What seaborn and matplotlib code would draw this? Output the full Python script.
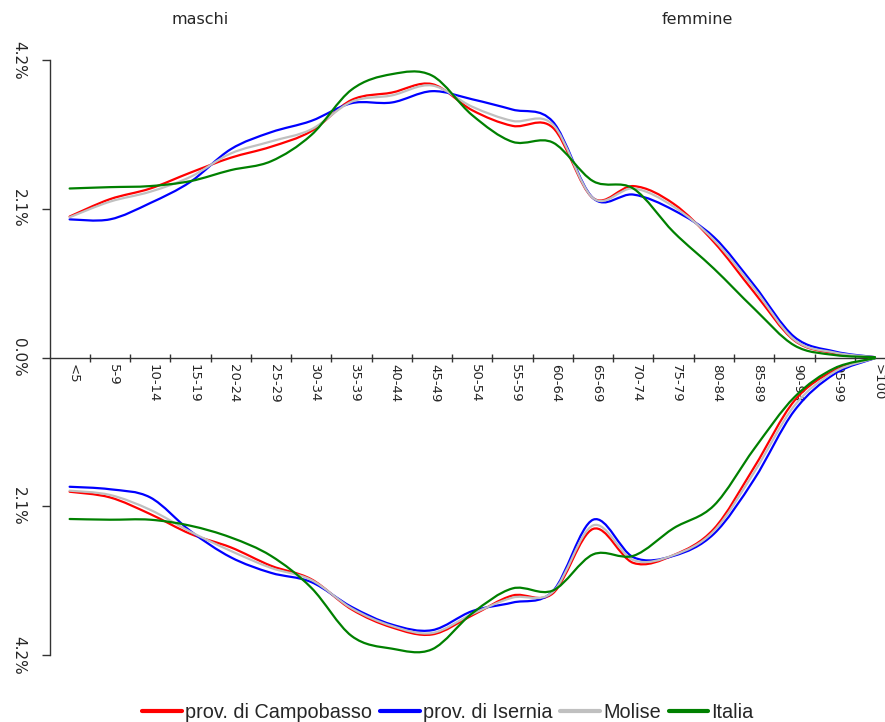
import matplotlib
matplotlib.use("Agg")

import numpy as np
import matplotlib.pyplot as plt
import seaborn as sns
from matplotlib.path import Path
from matplotlib.patches import PathPatch
from matplotlib.lines import Line2D

# classi di età (una per categoria)
eta = ["<5", "5-9", "10-14", "15-19", "20-24", "25-29", "30-34", "35-39", "40-44",
       "45-49", "50-54", "55-59", "60-64", "65-69", "70-74", "75-79", "80-84",
       "85-89", "90-94", "95-99", ">100"]

# maschi (% sul totale)
campobasso_m = [1.99, 2.235, 2.385, 2.61, 2.82, 2.975, 3.195, 3.635, 3.74, 3.86, 3.49,
                3.27, 3.245, 2.25, 2.42, 2.17, 1.63, 0.92, 0.24, 0.06, 0.005]
isernia_m = [1.95, 1.95, 2.18, 2.48, 2.94, 3.18, 3.34, 3.59, 3.60, 3.76, 3.645,
             3.50, 3.33, 2.25, 2.30, 2.08, 1.70, 1.02, 0.29, 0.085, 0.005]
molise_m = [1.98, 2.20, 2.34, 2.55, 2.88, 3.05, 3.22, 3.61, 3.70, 3.84, 3.54,
            3.34, 3.29, 2.25, 2.386, 2.13, 1.66, 0.975, 0.25, 0.07, 0.005]
italia_m = [2.386, 2.405, 2.42, 2.49, 2.645, 2.77, 3.14, 3.78, 4.00, 3.98, 3.42,
            3.045, 3.035, 2.49, 2.385, 1.77, 1.255, 0.69, 0.17, 0.035, 0.005]

# femmine (% sul totale, disegnate sotto lo zero)
campobasso_f = [1.895, 1.975, 2.21, 2.49, 2.68, 2.94, 3.13, 3.555, 3.81, 3.91, 3.64,
                3.36, 3.33, 2.42, 2.90, 2.79, 2.42, 1.55, 0.61, 0.18, 0.01]
isernia_f = [1.825, 1.86, 1.975, 2.45, 2.82, 3.04, 3.17, 3.52, 3.77, 3.85, 3.58,
             3.46, 3.30, 2.29, 2.82, 2.80, 2.49, 1.72, 0.75, 0.23, 0.01]
molise_f = [1.88, 1.94, 2.15, 2.46, 2.73, 2.97, 3.14, 3.54, 3.79, 3.89, 3.62,
            3.39, 3.31, 2.37, 2.86, 2.79, 2.45, 1.62, 0.68, 0.20, 0.01]
italia_f = [2.28, 2.29, 2.29, 2.375, 2.54, 2.80, 3.25, 3.93, 4.11, 4.12, 3.61,
            3.26, 3.29, 2.78, 2.80, 2.41, 2.09, 1.29, 0.56, 0.15, 0.01]

serie = ["prov. di Campobasso", "prov. di Isernia", "Molise", "Italia"]
colori = ["#ff0000", "#0000ff", "#c0c0c0", "#008000"]
maschi = [campobasso_m, isernia_m, molise_m, italia_m]
femmine = [campobasso_f, isernia_f, molise_f, italia_f]

y_ticks = [-4.2, -2.1, 0.0, 2.1, 4.2]
y_labels = ["4.2%", "2.1%", "0.0%", "2.1%", "4.2%"]

sns.set_theme(style="white")
plt.rcParams["font.family"] = ["DejaVu Sans"]


def curva_smussata(xs, ys):
    # linea smussata stile Excel: bezier cubiche che passano per i punti
    pts = np.column_stack([xs, ys])
    ext = np.vstack([pts[0], pts, pts[-1]])
    verts = [pts[0]]
    codes = [Path.MOVETO]
    for i in range(len(pts) - 1):
        p0, p1, p2, p3 = ext[i], ext[i + 1], ext[i + 2], ext[i + 3]
        verts += [p1 + (p2 - p0) / 6, p2 - (p3 - p1) / 6, p2]
        codes += [Path.CURVE4] * 3
    return Path(verts, codes)


fig = plt.figure(figsize=(8.85, 7.22), dpi=100)
ax = fig.add_axes([49.5 / 885, 67 / 722, (885 - 49.5) / 885, 595 / 722])

x = np.arange(len(eta)) + 0.5
for m, f, c in zip(maschi, femmine, colori):
    for vals in (np.array(m), -np.array(f)):
        ax.add_patch(PathPatch(curva_smussata(x, vals), fill=False, edgecolor=c,
                               lw=1.6, joinstyle="round", capstyle="round", zorder=3))

ax.set_xlim(0, 20.75)
ax.set_ylim(-4.2, 4.2)

sns.despine(ax=ax, top=True, right=True)
ax.spines["bottom"].set_position(("data", 0))
for s in ("left", "bottom"):
    ax.spines[s].set_color("#333333")
    ax.spines[s].set_linewidth(1)

ax.set_xticks(np.arange(1, 21))
ax.set_xticklabels([])
ax.set_xticks(x + 0.08, minor=True)
ax.set_xticklabels(eta, minor=True, rotation=270, fontsize=9.5)
ax.tick_params(axis="x", which="major", direction="inout", length=6, width=1,
               color="#333333", bottom=True)
ax.tick_params(axis="x", which="minor", length=0, pad=5, bottom=True)

ax.set_yticks(y_ticks)
ax.set_yticklabels(y_labels, rotation=270, va="center", fontsize=11)
ax.tick_params(axis="y", direction="out", length=6, width=1, color="#333333",
               left=True, pad=11)
ax.grid(False)

fig.text(200 / 885, 1 - 20 / 722, "maschi", ha="center", va="center", fontsize=11.5)
fig.text(697 / 885, 1 - 20 / 722, "femmine", ha="center", va="center", fontsize=11.5)

handles = [Line2D([0], [0], color=c, lw=3) for c in colori]
fig.legend(handles, serie, loc="center", bbox_to_anchor=(448 / 885, 1 - 712 / 722),
           ncol=4, frameon=False, handlelength=2.0, handletextpad=0.15,
           columnspacing=0.4, prop={"family": ["Liberation Sans", "DejaVu Sans"], "size": 14.3})

fig.savefig("out.png", dpi=100)
